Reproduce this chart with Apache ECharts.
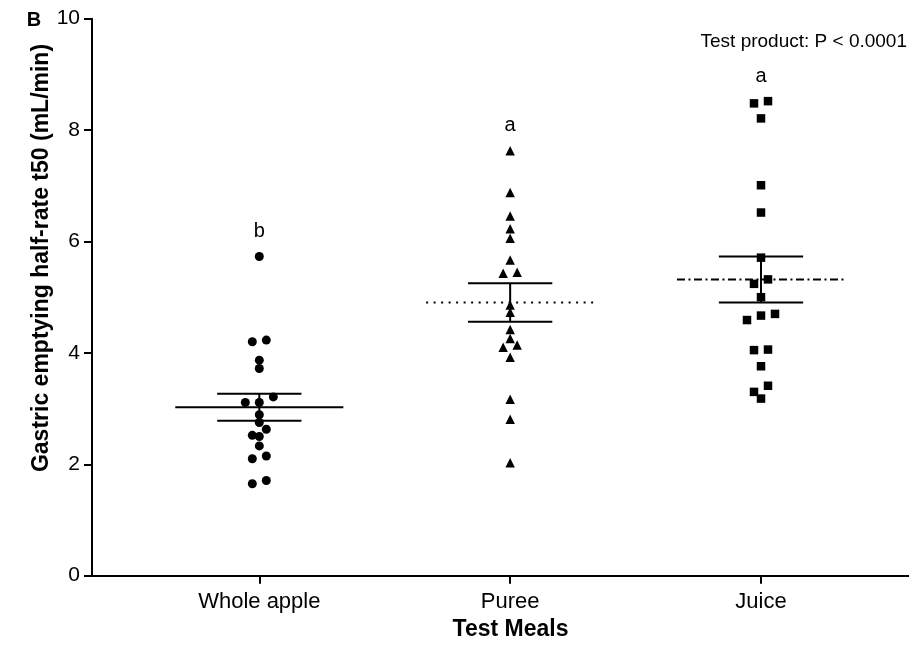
<!DOCTYPE html>
<html><head><meta charset="utf-8">
<script src="https://cdn.jsdelivr.net/npm/echarts@6/dist/echarts.min.js"></script>
<style>html,body{margin:0;padding:0;background:#fff}#c{width:909px;height:659px}</style>
</head><body><div id="c"></div>
<script>
// ---- data ----
const categories = ['Whole apple', 'Puree', 'Juice'];
const wholeApple = [5.73, 4.23, 4.20, 3.87, 3.72, 3.21, 3.11, 3.11, 2.89, 2.75, 2.63, 2.52, 2.50, 2.33, 2.15, 2.10, 1.71, 1.65];
const puree = [7.63, 6.88, 6.46, 6.23, 6.06, 5.67, 5.45, 5.43, 4.86, 4.73, 4.42, 4.26, 4.14, 4.10, 3.92, 3.17, 2.81, 2.03];
const juice = [8.52, 8.48, 8.21, 7.01, 6.52, 5.71, 5.32, 5.24, 5.00, 4.70, 4.67, 4.59, 4.06, 4.05, 3.76, 3.41, 3.30, 3.18];
const letters = ['b', 'a', 'a'];
const yAxisTitle = 'Gastric emptying half-rate t50 (mL/min)';
const xAxisTitle = 'Test Meals';
const panelLabel = 'B';
const pNote = 'Test product: P < 0.0001';

// ---- styling ----
const FONT = '"Liberation Sans", Arial, Helvetica, sans-serif';
const groups = [wholeApple, puree, juice];
const symbols = ['circle', 'triangle', 'rect'];
const symbolSizes = [9, 9.5, 8.5];
const meanDash = ['solid', [2, 5.5], [8, 3.5, 2, 3.5]];

function mean(a) { return a.reduce((s, v) => s + v, 0) / a.length; }
function sem(a) {
  const m = mean(a);
  const v = a.reduce((s, x) => s + (x - m) * (x - m), 0) / (a.length - 1);
  return Math.sqrt(v) / Math.sqrt(a.length);
}
const statsData = groups.map((g, i) => [i + 1, mean(g), sem(g), Math.max.apply(null, g), i]);

const chart = echarts.init(document.getElementById('c'), null, { renderer: 'canvas' });

function buildScatter(offsets) {
  return groups.map((g, i) => ({
    type: 'scatter',
    symbol: symbols[i],
    symbolSize: symbolSizes[i],
    itemStyle: { color: '#000', opacity: 1 },
    z: 3,
    data: g.map((v, k) => ({ value: [i + 1, v], symbolOffset: [offsets ? offsets[i][k] : 0, 0] })),
    emphasis: { disabled: true }
  }));
}

const baseOption = {
  animation: false,
  backgroundColor: '#fff',
  grid: { left: 92, right: 0, top: 18.7, bottom: 83.3 },
  xAxis: {
    type: 'value', min: 0.333, max: 3.59,
    axisLine: { show: true, onZero: false, lineStyle: { color: '#000', width: 2 } },
    axisTick: { show: true, customValues: [1, 2, 3], length: 8, lineStyle: { color: '#000', width: 2 } },
    axisLabel: { customValues: [1, 2, 3], formatter: v => categories[Math.round(v) - 1] || '', fontSize: 22, color: '#000', fontFamily: FONT, margin: 15 },
    splitLine: { show: false },
    name: xAxisTitle, nameLocation: 'middle', nameGap: 42,
    nameTextStyle: { fontSize: 23, fontWeight: 'bold', color: '#000', fontFamily: FONT, padding: [0, 0, 0, 20] }
  },
  yAxis: {
    type: 'value', min: 0, max: 10, interval: 2,
    axisLine: { show: true, onZero: false, lineStyle: { color: '#000', width: 2 } },
    axisTick: { show: true, length: 8, lineStyle: { color: '#000', width: 2 } },
    axisLabel: { fontSize: 21, color: '#000', fontFamily: FONT, margin: 12 },
    splitLine: { show: false }
  },
  graphic: [
    { type: 'text', x: 42, y: 258, rotation: Math.PI / 2,
      style: { text: yAxisTitle, fontSize: 23, fontWeight: 'bold', fontFamily: FONT, fill: '#000', align: 'center', verticalAlign: 'middle' } },
    { type: 'text', x: 34, y: 20,
      style: { text: panelLabel, fontSize: 20, fontWeight: 'bold', fontFamily: FONT, fill: '#000', align: 'center', verticalAlign: 'middle' } },
    { type: 'text', x: 907, y: 42,
      style: { text: pNote, fontSize: 19, fontFamily: FONT, fill: '#000', align: 'right', verticalAlign: 'middle' } }
  ],
  series: []
};

const statsSeries = {
  type: 'custom',
  z: 2,
  silent: true,
  data: statsData,
  renderItem: function (params, api) {
    const x = api.value(0), m = api.value(1), s = api.value(2), mx = api.value(3);
    const gi = api.value(4);
    const band = api.size([1, 0])[0];
    const c = api.coord([x, m]);
    const hi = api.coord([x, m + s]);
    const lo = api.coord([x, m - s]);
    const top = api.coord([x, mx]);
    const hw = band * 0.335, cw = band * 0.168;
    const solid = { stroke: '#000', lineWidth: 2 };
    const dash = meanDash[gi];
    return {
      type: 'group',
      children: [
        { type: 'line', shape: { x1: c[0] - hw, y1: c[1], x2: c[0] + hw, y2: c[1] },
          style: { stroke: '#000', lineWidth: 2, lineDash: dash === 'solid' ? null : dash } },
        { type: 'line', shape: { x1: hi[0], y1: hi[1], x2: lo[0], y2: lo[1] }, style: solid },
        { type: 'line', shape: { x1: hi[0] - cw, y1: hi[1], x2: hi[0] + cw, y2: hi[1] }, style: solid },
        { type: 'line', shape: { x1: lo[0] - cw, y1: lo[1], x2: lo[0] + cw, y2: lo[1] }, style: solid },
        { type: 'text', x: top[0], y: top[1] - 25,
          style: { text: letters[gi], fontSize: 20, fontFamily: FONT, fill: '#000', align: 'center', verticalAlign: 'middle' } }
      ]
    };
  }
};

baseOption.series = buildScatter(null).concat([statsSeries]);
chart.setOption(baseOption);

// beeswarm layout computed from the rendered y scale
function swarm(values, toPx, rowGap, step) {
  const order = values.map((v, i) => i).sort((a, b) => values[b] - values[a]);
  const off = new Array(values.length).fill(0);
  let k = 0;
  while (k < order.length) {
    const y0 = toPx(values[order[k]]);
    let j = k + 1;
    while (j < order.length && Math.abs(toPx(values[order[j]]) - y0) < rowGap) j++;
    const n = j - k;
    for (let m = 0; m < n; m++) off[order[k + m]] = ((n - 1) / 2 - m) * step;
    k = j;
  }
  return off;
}
const toPx = v => chart.convertToPixel({ gridIndex: 0 }, [1, v])[1];
const offsets = groups.map(g => swarm(g, toPx, 6.5, 14));
chart.setOption({ series: buildScatter(offsets).concat([statsSeries]) }, { replaceMerge: ['series'] });
</script>
</body></html>
